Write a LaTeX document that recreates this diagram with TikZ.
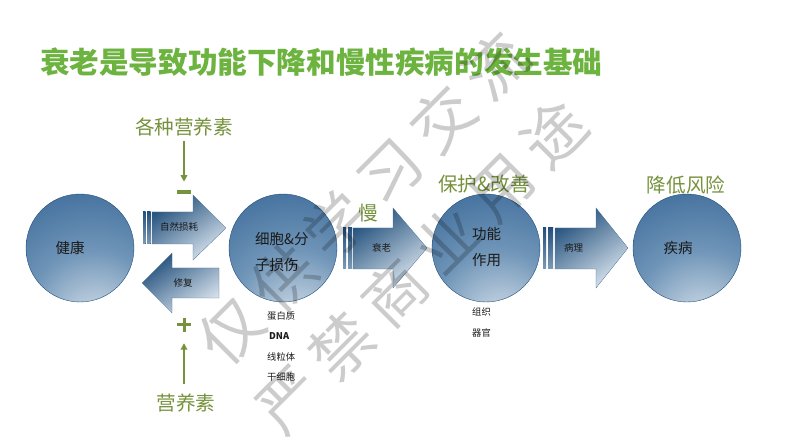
\documentclass[tikz,border=0pt]{standalone}
\usepackage{fontspec}
\setmainfont{Noto Sans CJK SC}
\usetikzlibrary{arrows.meta}
\definecolor{titlegreen}{HTML}{6DB33F}
\definecolor{olivegreen}{HTML}{76923C}
\definecolor{arrdark}{HTML}{22507C}
\definecolor{arrlight}{HTML}{D9E4EE}
\definecolor{balllight}{HTML}{E8EEF4}
\definecolor{ballmida}{HTML}{B8CADB}
\definecolor{ballmidb}{HTML}{6F95B8}
\definecolor{ballmidc}{HTML}{4874A0}
\definecolor{balldark}{HTML}{2E5E8B}
\definecolor{balldarker}{HTML}{24517D}
\definecolor{txtdark}{HTML}{1A1A1A}
\pgfdeclareradialshading{ballshade}{\pgfpoint{8bp}{-40bp}}{%
  color(0bp)=(balllight); color(12bp)=(ballmida); color(30bp)=(ballmidb);
  color(50bp)=(ballmidc); color(75bp)=(balldark); color(95bp)=(balldarker); color(130bp)=(balldarker)}
\tikzset{
  ball/.style={circle, minimum size=108pt, inner sep=0pt, shading=ballshade, draw=arrdark, line width=0.4pt},
  blockarrow/.style={top color=arrdark, bottom color=arrlight, shading angle=35, draw=arrdark!80, line width=0.3pt},
  stripe/.style={top color=arrdark, bottom color=arrdark!50!arrlight, draw=none},
  circtext/.style={font=\fontsize{14.5}{14.5}\selectfont, text=txtdark, inner sep=0pt},
  arrtext/.style={font=\fontsize{9.5}{9.5}\selectfont, text=txtdark, inner sep=0pt},
  smalltext/.style={font=\fontsize{9.3}{9.3}\selectfont, text=txtdark, inner sep=0pt, anchor=west},
  greenlabel/.style={font=\fontsize{19.6}{19.6}\selectfont, text=olivegreen, inner sep=0pt},
  garrow/.style={draw=olivegreen, line width=2.2pt, -{Triangle[width=6.5pt,length=6.5pt]}},
  watermark/.style={font=\fontsize{62}{62}\selectfont, text=black, text opacity=0.2, inner sep=0pt, rotate=45}
}
\begin{document}
\begin{tikzpicture}[x=1pt, y=-1pt]
\useasboundingbox (0,0) rectangle (793,446);
\fill[white] (0,0) rectangle (793,446);

% title
\node[font=\fontsize{29.6}{29.6}\selectfont\bfseries, text=titlegreen, anchor=west, inner sep=0pt] (title) at (40,62) {衰老是导致功能下降和慢性疾病的发生基础};

% circles
\node[ball] (health) at (80,248) {};
\node[ball] (damage) at (283,248) {};
\node[ball] (func) at (486,248) {};
\node[ball] (disease) at (687,248) {};

\node[circtext] (thealth) at (70,248) {健康};
\node[circtext, anchor=west] (tdamagea) at (255,239) {细胞\&分};
\node[circtext, anchor=west] (tdamageb) at (255,265) {子损伤};
\node[circtext, anchor=west] (tfunca) at (472,234) {功能};
\node[circtext, anchor=west] (tfuncb) at (472,260) {作用};
\node[circtext] (tdisease) at (678,248) {疾病};

% block arrows
\fill[stripe] (143,212) rectangle (145.5,244);
\fill[stripe] (147,212) rectangle (150.5,244);
\path[blockarrow] (152,212) -- (193,212) -- (193,195) -- (226,228) -- (193,260) -- (193,244) -- (152,244) -- cycle;
\path[blockarrow] (219,268) -- (172,268) -- (172,253) -- (142,283) -- (172,313) -- (172,298) -- (219,298) -- cycle;

\fill[stripe] (343,228) rectangle (346,269);
\fill[stripe] (348,228) rectangle (352,269);
\path[blockarrow] (353,228) -- (393,228) -- (393,208) -- (427,248) -- (393,288) -- (393,269) -- (353,269) -- cycle;

\fill[stripe] (543,228) rectangle (546,269);
\fill[stripe] (548,228) rectangle (553,269);
\path[blockarrow] (555,228) -- (596,228) -- (596,208) -- (628,248) -- (596,288) -- (596,269) -- (555,269) -- cycle;

\node[arrtext] (twear) at (179,227) {自然损耗};
\node[arrtext] (trepair) at (183,283) {修复};
\node[arrtext] (taging) at (381.5,248) {衰老};
\node[arrtext] (tpath) at (573.5,248) {病理};

% small lists
\node[smalltext] (protein) at (267,316) {蛋白质};
\node[smalltext, font=\fontsize{9.3}{9.3}\selectfont\bfseries] (dna) at (269,336) {DNA};
\node[smalltext] (mito) at (267,357) {线粒体};
\node[smalltext] (stem) at (267,377) {干细胞};
\node[smalltext] (tissue) at (472,312) {组织};
\node[smalltext] (organ) at (472,333) {器官};

% green labels
\node[greenlabel] (nutall) at (184,127) {各种营养素};
\node[greenlabel] (nut) at (186,403) {营养素};
\node[greenlabel] (slow) at (368.5,213) {慢};
\node[greenlabel] (protect) at (484,184) {保护\&改善};
\node[greenlabel] (reduce) at (686,185) {降低风险};

% minus and plus
\node[fill=olivegreen, minimum width=14pt, minimum height=3.2pt, inner sep=0pt] (minus) at (184,192) {};
\node[minimum size=14pt, inner sep=0pt] (plus) at (184,325) {};
\fill[olivegreen] (177,323.5) rectangle (191,326.5);
\fill[olivegreen] (182.5,318) rectangle (185.5,332);

\draw[garrow, shorten <=5pt, shorten >=8.5pt] (nutall.south) -- (minus.north);
\draw[garrow, shorten <=10pt, shorten >=11pt] (nut.north -| plus) -- (plus.south);

% watermark
\node[watermark] (wma) at (363,198) {仅\hspace{13pt}供\hspace{13pt}学\hspace{13pt}习\hspace{13pt}交\hspace{13pt}流};
\node[watermark] (wmb) at (421,266) {严\hspace{13pt}禁\hspace{13pt}商\hspace{13pt}业\hspace{13pt}用\hspace{13pt}途};
\end{tikzpicture}
\end{document}
